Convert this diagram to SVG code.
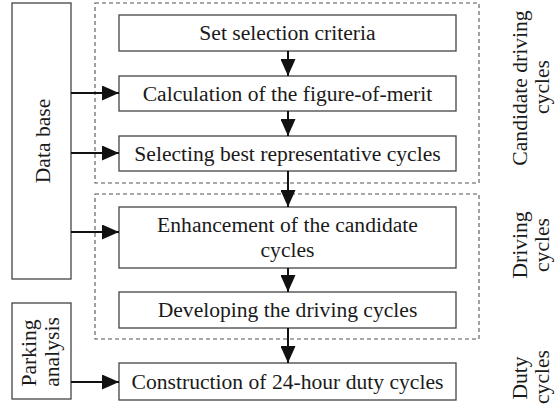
<svg xmlns="http://www.w3.org/2000/svg" width="556" height="404" viewBox="0 0 556 404">
<defs>
<style>
.box{fill:#fff;stroke:#444;stroke-width:1.3}
.dash{fill:none;stroke:#555;stroke-width:1.1;stroke-dasharray:4,3}
.t{font-family:"Liberation Serif","Times New Roman",serif;font-size:21.6px;fill:#1a1a1a;text-anchor:middle}
.arr{stroke:#111;stroke-width:2;fill:none;marker-end:url(#ah)}
</style>
<marker id="ah" markerUnits="userSpaceOnUse" markerWidth="17" markerHeight="15" refX="17" refY="7.5" orient="auto">
<path d="M0,0 L17,7.5 L0,15 z" fill="#111"/>
</marker>
</defs>
<rect width="556" height="404" fill="#fff"/>
<g id="groups">
<rect class="dash" x="95" y="3" width="384" height="180"/>
<rect class="dash" x="95" y="194" width="384" height="145"/>
</g>
<g id="database">
<rect class="box" x="12" y="3" width="59" height="276"/>
<text class="t" transform="translate(50,141) rotate(-90)">Data base</text>
</g>
<g id="parking">
<rect class="box" x="12" y="303" width="59" height="96"/>
<text class="t" transform="translate(36,353) rotate(-90)">Parking</text>
<text class="t" transform="translate(59,352) rotate(-90)">analysis</text>
</g>
<g id="n1">
<rect class="box" x="119" y="15" width="337" height="36"/>
<text class="t" x="287.5" y="40">Set selection criteria</text>
</g>
<g id="n2">
<rect class="box" x="119" y="76" width="337" height="35"/>
<text class="t" x="287.5" y="101">Calculation of the figure-of-merit</text>
</g>
<g id="n3">
<rect class="box" x="119" y="136" width="337" height="35"/>
<text class="t" x="287.5" y="161">Selecting best representative cycles</text>
</g>
<g id="n4">
<rect class="box" x="119" y="207" width="337" height="61"/>
<text class="t" x="287.5" y="232">Enhancement of the candidate</text>
<text class="t" x="287.5" y="257">cycles</text>
</g>
<g id="n5">
<rect class="box" x="119" y="292" width="337" height="36"/>
<text class="t" x="287.5" y="317">Developing the driving cycles</text>
</g>
<g id="n6">
<rect class="box" x="119" y="363" width="337" height="37"/>
<text class="t" x="287.5" y="389">Construction of 24-hour duty cycles</text>
</g>
<g id="labels">
<text class="t" transform="translate(527,88) rotate(-90)">Candidate driving</text>
<text class="t" transform="translate(549,87) rotate(-90)">cycles</text>
<text class="t" transform="translate(527,245) rotate(-90)">Driving</text>
<text class="t" transform="translate(549,245) rotate(-90)">cycles</text>
<text class="t" transform="translate(527,378) rotate(-90)">Duty</text>
<text class="t" transform="translate(549,377) rotate(-90)">cycles</text>
</g>
<g id="connectors">
<line class="arr" x1="288" y1="51" x2="288" y2="76"/>
<line class="arr" x1="288" y1="111" x2="288" y2="136"/>
<line class="arr" x1="288" y1="171" x2="288" y2="207"/>
<line class="arr" x1="288" y1="268" x2="288" y2="292"/>
<line class="arr" x1="288" y1="328" x2="288" y2="363"/>
<line class="arr" x1="71" y1="93" x2="119" y2="93"/>
<line class="arr" x1="71" y1="153" x2="119" y2="153"/>
<line class="arr" x1="71" y1="232" x2="119" y2="232"/>
<line class="arr" x1="71" y1="382" x2="119" y2="382"/>
</g>
</svg>
